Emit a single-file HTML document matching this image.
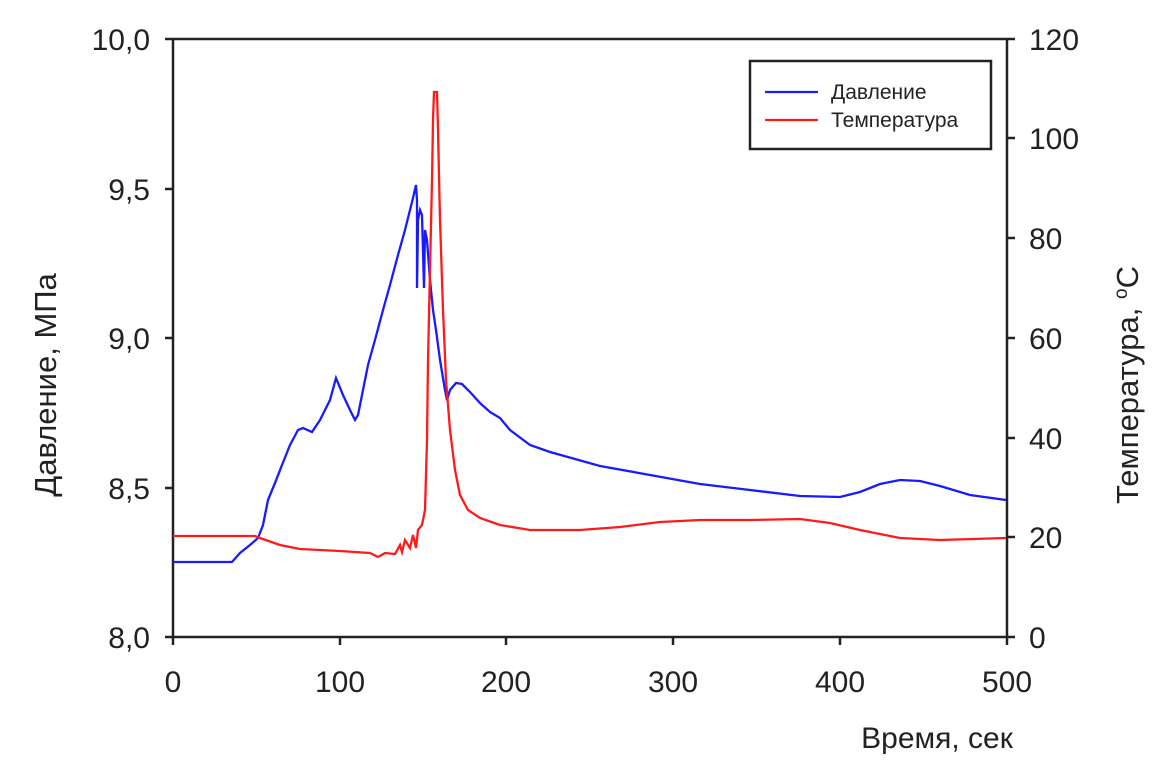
<!DOCTYPE html>
<html><head><meta charset="utf-8"><style>body{margin:0;background:#fff}</style></head><body>
<svg width="1161" height="767" xmlns="http://www.w3.org/2000/svg" font-family="Liberation Sans, sans-serif">
<rect width="1161" height="767" fill="#fff"/>
<g stroke="#222" stroke-width="2.5" fill="none">
<line x1="165" y1="39" x2="1015" y2="39"/>
<line x1="173" y1="39" x2="173" y2="645"/>
<line x1="1007" y1="39" x2="1007" y2="637"/>
<line x1="165" y1="637" x2="1015" y2="637"/>
<line x1="165" y1="189" x2="173" y2="189"/><line x1="165" y1="338" x2="173" y2="338"/><line x1="165" y1="488" x2="173" y2="488"/>
<line x1="1007" y1="138" x2="1015" y2="138"/><line x1="1007" y1="238" x2="1015" y2="238"/><line x1="1007" y1="338" x2="1015" y2="338"/><line x1="1007" y1="438" x2="1015" y2="438"/><line x1="1007" y1="537" x2="1015" y2="537"/>
<line x1="340" y1="637" x2="340" y2="645"/><line x1="506" y1="637" x2="506" y2="645"/><line x1="673" y1="637" x2="673" y2="645"/><line x1="840" y1="637" x2="840" y2="645"/><line x1="1007" y1="637" x2="1007" y2="645"/>
</g>
<g font-size="30" fill="#222" text-anchor="end">
<text x="150" y="50">10,0</text><text x="150" y="200">9,5</text><text x="150" y="349">9,0</text><text x="150" y="499">8,5</text><text x="150" y="648">8,0</text>
</g>
<g font-size="30" fill="#222">
<text x="1029" y="50">120</text><text x="1029" y="149">100</text><text x="1029" y="249">80</text><text x="1029" y="349">60</text><text x="1029" y="449">40</text><text x="1029" y="548">20</text><text x="1029" y="648">0</text>
</g>
<g font-size="30" fill="#222" text-anchor="middle">
<text x="173" y="692">0</text><text x="340" y="692">100</text><text x="506" y="692">200</text><text x="673" y="692">300</text><text x="840" y="692">400</text><text x="1007" y="692">500</text>
<text x="937" y="748">Время, сек</text>
<text transform="translate(56,385) rotate(-90)" font-size="31">Давление, МПа</text>
<text transform="translate(1138,385) rotate(-90)" font-size="31">Температура, <tspan font-size="19" dy="-11">o</tspan><tspan dy="11">C</tspan></text>
</g>
<polyline fill="none" stroke="#1a1aff" stroke-width="2.3" points="173,562 232,562 240,553 250,545 258,538 263,525 268,500 275,483 282,465 290,445 298,430 303,428 312,432 320,420 330,400 336,378 343,395 350,410 355,420 358,415 362,395 368,365 375,340 383,310 390,285 398,255 405,230 410,210 413,198 416,185 417,200 417,288 418,220 420,210 422,215 424,288 425,230 427,240 430,280 433,310 436,330 440,360 445,390 447,400 450,390 456,383 462,384 470,392 480,403 490,412 500,418 510,430 530,445 550,452 600,466 650,475 700,484 750,490 800,496 840,497 860,492 880,484 900,480 920,481 940,486 970,495 1006,500"/>
<polyline fill="none" stroke="#ff1a1a" stroke-width="2.3" points="173,536 255,536 260,538 280,545 300,549 340,551 370,553 378,557 385,553 395,554 400,545 402,552 405,540 410,548 413,535 416,548 418,530 422,525 425,510 427,440 428,360 430,270 432,180 433,120 434,92 437,92 438,130 440,220 443,310 446,380 450,430 455,470 460,495 468,510 480,518 500,525 530,530 580,530 620,527 660,522 700,520 750,520 800,519 830,523 860,530 900,538 940,540 1006,538"/>
<rect x="750" y="61" width="241" height="88" fill="#fff" stroke="#222" stroke-width="2.5"/>
<line x1="765" y1="92" x2="818" y2="92" stroke="#1a1aff" stroke-width="2.3"/>
<line x1="765" y1="120" x2="818" y2="120" stroke="#ff1a1a" stroke-width="2.3"/>
<g font-size="21" fill="#222"><text x="831" y="99">Давление</text><text x="831" y="127">Температура</text></g>
</svg>
</body></html>
